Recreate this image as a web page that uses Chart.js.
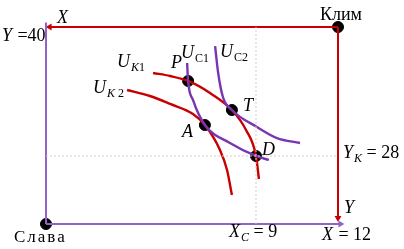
<!DOCTYPE html>
<html>
<head>
<meta charset="utf-8">
<script src="https://cdn.jsdelivr.net/npm/chart.js@4.4.1/dist/chart.umd.min.js"></script>
<style>
  html, body { margin: 0; padding: 0; background: #fff; }
  #wrap { width: 404px; height: 249px; }
</style>
</head>
<body>
<div id="wrap"><canvas id="box"></canvas></div>
<script>
/* DATA (X: 0..12, Y: 0..40, origin Слава bottom-left) */
const boxX = [0, 12];
const boxY = [0, 40];

const curveK1 = [[4.40, 30.66], [5.10, 30.05], [5.84, 29.04], [6.74, 26.60], [7.64, 23.15], [8.22, 19.09], [8.63, 13.81], [8.75, 9.14]];
const curveK2 = [[3.33, 27.21], [4.27, 25.99], [5.10, 24.37], [6.04, 22.34], [6.53, 20.10], [7.15, 15.03], [7.44, 10.97], [7.64, 5.89]];
const curveC1 = [[5.80, 32.69], [5.84, 29.04], [6.04, 25.18], [6.53, 20.10], [7.56, 16.45], [8.63, 13.81], [9.16, 13.00]];
const curveC2 = [[6.95, 36.14], [7.07, 30.86], [7.27, 25.79], [7.64, 23.15], [8.67, 19.70], [9.49, 17.46], [10.44, 16.45]];

const pointNames = ["P", "A", "T", "D"];
const pointsXY = [[5.84, 29.04], [6.53, 20.10], [7.64, 23.15], [8.63, 13.81]];

const xC = 8.63;   // X_C = 9 guide
const yK = 13.81;  // Y_K = 28 guide

/* labels: anchor in data units, parts = [text, style] */
const labels = [
  { at: [0.45, 40.81], parts: [["X", "i"]] },
  { at: [-1.81, 37.16], parts: [["Y", "i"], [" =40", "r"]] },
  { at: [11.26, 41.42], parts: [["Клим", "r"]] },
  { at: [-1.32, -3.7], parts: [["Слава", "sp"]] },
  { at: [12.25, 2.23], parts: [["Y", "i"]] },
  { at: [11.34, -3.25], parts: [["X", "i"], [" = 12", "r"]] },
  { at: [7.52, -2.64], parts: [["X", "i"], ["C", "si"], [" = 9", "r"]] },
  { at: [12.21, 13.40], parts: [["Y", "i"], ["K", "si"], [" = 28", "r"]] },
  { at: [2.92, 31.88], parts: [["U", "i"], ["K", "si"], ["1", "sr"]] },
  { at: [1.93, 26.60], parts: [["U", "i"], ["K", "si"], [" 2", "sr"]] },
  { at: [5.55, 33.71], parts: [["U", "i"], ["C1", "sr"]] },
  { at: [7.15, 33.91], parts: [["U", "i"], ["C2", "sr"]] },
  { at: [5.14, 31.68], parts: [["P", "i"]] },
  { at: [8.10, 22.94], parts: [["T", "i"]] },
  { at: [5.59, 17.67], parts: [["A", "i"]] },
  { at: [8.88, 14.01], parts: [["D", "i"]] }
];

const PURPLE_AX = "#9461c9";
const PURPLE = "#7a35b0";
const RED = "#c80000";
const SERIF = "'Liberation Serif', 'DejaVu Serif', serif";

const toPts = arr => arr.map(p => ({ x: p[0], y: p[1] }));

function curve(data, color) {
  return { data: toPts(data), borderColor: color, borderWidth: 2.4, pointRadius: 0, cubicInterpolationMode: "monotone", fill: false };
}

function arrowLine(a, b, color, rot) {
  return {
    data: [{ x: a[0], y: a[1] }, { x: b[0], y: b[1] }],
    borderColor: color,
    backgroundColor: color,
    borderWidth: 2,
    tension: 0,
    pointRadius: [0, 4],
    pointStyle: "triangle",
    rotation: rot,
    pointBorderWidth: 0
  };
}

/* text plugin */
const textPlugin = {
  id: "texts",
  afterDatasetsDraw(chart) {
    const { ctx, scales } = chart;
    ctx.save();
    ctx.fillStyle = "#000";
    ctx.textBaseline = "alphabetic";
    labels.forEach(l => {
      let px = scales.x.getPixelForValue(l.at[0]);
      const py = scales.y.getPixelForValue(l.at[1]);
      l.parts.forEach(([txt, st]) => {
        let dy = 0;
        if (st === "i") ctx.font = "italic 18px " + SERIF;
        else if (st === "r" || st === "sp") ctx.font = "18px " + SERIF;
        else if (st === "si") { ctx.font = "italic 12px " + SERIF; dy = 4; }
        else { ctx.font = "12px " + SERIF; dy = 4; }
        if (st === "sp") {
          ctx.font = "17px " + SERIF;
          for (const ch of txt) {
            ctx.fillText(ch, px, py);
            px += ctx.measureText(ch).width + 2;
          }
        } else {
          ctx.fillText(txt, px, py + dy);
          px += ctx.measureText(txt).width + (st === "i" ? 1 : 0);
        }
      });
    });
    ctx.restore();
  }
};

new Chart(document.getElementById("box"), {
  type: "line",
  data: {
    datasets: [
      { data: toPts([[xC, boxY[0]], [xC, boxY[1]]]), borderColor: "#cfcfcf", borderWidth: 1, borderDash: [2, 2], pointRadius: 0 },
      { data: toPts([[boxX[0], yK], [boxX[1], yK]]), borderColor: "#cfcfcf", borderWidth: 1, borderDash: [2, 2], pointRadius: 0 },
      arrowLine([boxX[0], boxY[0]], [boxX[0], 40.9], PURPLE_AX, 0),
      arrowLine([boxX[0], boxY[0]], [12.1, boxY[0]], PURPLE_AX, 90),
      arrowLine([boxX[1], boxY[1]], [0.15, boxY[1]], RED, 270),
      arrowLine([boxX[1], boxY[1]], [boxX[1], 1.2], RED, 180),
      curve(curveC1, PURPLE),
      curve(curveC2, PURPLE),
      curve(curveK1, RED),
      curve(curveK2, RED),
      {
        type: "scatter",
        data: toPts(pointsXY.concat([[boxX[0], boxY[0]], [boxX[1], boxY[1]]])),
        backgroundColor: "#000",
        borderColor: "#000",
        pointRadius: 5.5,
        pointHoverRadius: 5.5
      }
    ]
  },
  options: {
    responsive: true,
    maintainAspectRatio: false,
    animation: false,
    clip: false,
    layout: { padding: { left: 46, right: 66, top: 27, bottom: 25 } },
    scales: {
      x: { type: "linear", min: boxX[0], max: boxX[1], display: false },
      y: { type: "linear", min: boxY[0], max: boxY[1], display: false }
    },
    plugins: { legend: { display: false }, tooltip: { enabled: false } }
  },
  plugins: [textPlugin]
});
</script>
</body>
</html>
